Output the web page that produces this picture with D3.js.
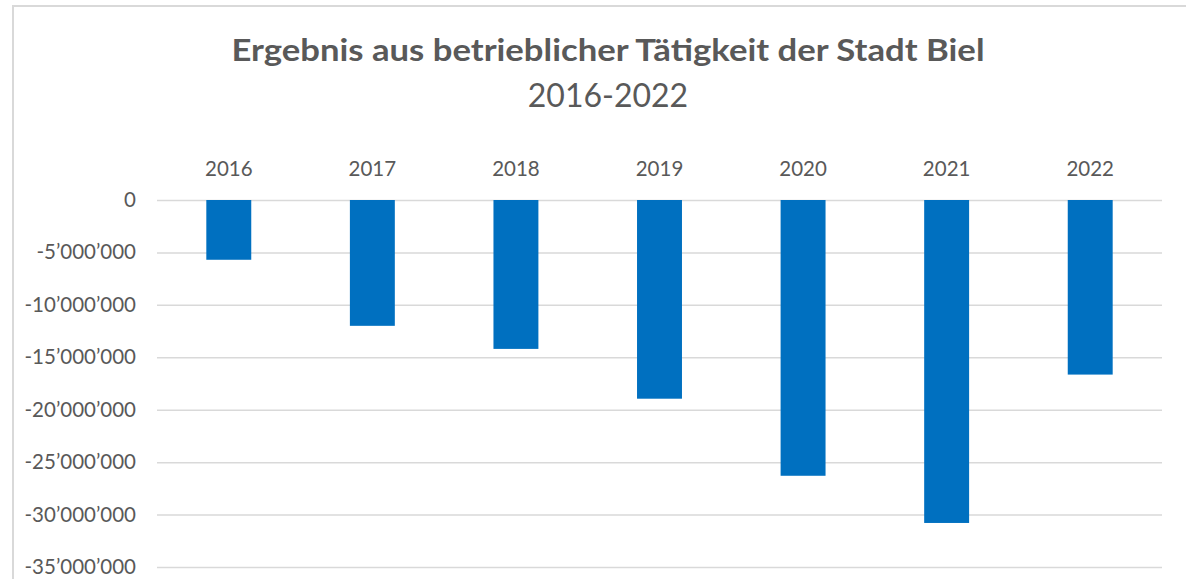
<!DOCTYPE html>
<html>
<head>
<meta charset="utf-8">
<script src="https://cdn.jsdelivr.net/npm/d3@7"></script>
<style>
  body { margin: 0; background: #fff; }
  svg { font-family: Lato, "Open Sans", sans-serif; }
  .grid line { stroke: #d9d9d9; stroke-width: 1.5; }
</style>
</head>
<body>
<svg id="chart" width="1186" height="579"></svg>
<script>
// values (CHF)
var years = ["2016", "2017", "2018", "2019", "2020", "2021", "2022"];
var results = [-5700000, -12000000, -14200000, -18950000, -26300000, -30800000, -16650000];
var yTicks = [0, -5000000, -10000000, -15000000, -20000000, -25000000, -30000000, -35000000];
var titleText = "Ergebnis aus betrieblicher Tätigkeit der Stadt Biel";
var subtitleText = "2016-2022";

var svg = d3.select("#chart"),
    margin = {top: 200, right: 24, bottom: 12, left: 157},
    width = 1162 - margin.left,
    height = 567 - margin.top;

// chart frame (left and top edges visible in the reference)
svg.append("path")
  .attr("d", "M13,579V6H1186")
  .attr("fill", "none")
  .attr("stroke", "#d9d9d9")
  .attr("stroke-width", 2);

var g = svg.append("g").attr("transform", "translate(" + margin.left + "," + margin.top + ")");

var x = d3.scaleBand()
  .domain(years)
  .range([0, width])
  .paddingInner(0.687)
  .paddingOuter(0.3435);

var y = d3.scaleLinear()
  .domain([0, -35000000])
  .range([0, height]);

var fmt = d3.formatLocale({decimal: ".", thousands: "\u2019", grouping: [3], currency: ["", ""], minus: "-"}).format(",d");

// gridlines + y labels
var yAxis = g.append("g")
  .attr("class", "grid")
  .call(d3.axisLeft(y).tickValues(yTicks).tickSize(-width).tickPadding(21).tickFormat(fmt));
yAxis.select(".domain").remove();

// x labels sit above the zero line
var xAxis = g.append("g")
  .attr("transform", "translate(0,-24)")
  .call(d3.axisTop(x).tickSize(0).tickPadding(0));
xAxis.select(".domain").remove();

g.selectAll(".tick text")
  .attr("font-family", "Lato, 'Open Sans', sans-serif")
  .attr("font-size", 20.5)
  .attr("fill", "#595959");

g.selectAll(".bar")
  .data(results)
  .enter().append("rect")
  .attr("class", "bar")
  .attr("x", function(d, i) { return x(years[i]); })
  .attr("y", function(d) { return y(0); })
  .attr("width", x.bandwidth())
  .attr("height", function(d) { return y(d) - y(0); })
  .attr("fill", "#0070c0");

svg.append("text")
  .attr("x", 608).attr("y", 61)
  .attr("text-anchor", "middle")
  .attr("font-size", 31)
  .attr("font-weight", "bold")
  .attr("fill", "#595959")
  .attr("textLength", 753)
  .attr("lengthAdjust", "spacingAndGlyphs")
  .text(titleText);

svg.append("text")
  .attr("x", 608).attr("y", 107)
  .attr("text-anchor", "middle")
  .attr("font-size", 32)
  .attr("fill", "#595959")
  .text(subtitleText);
</script>
</body>
</html>
